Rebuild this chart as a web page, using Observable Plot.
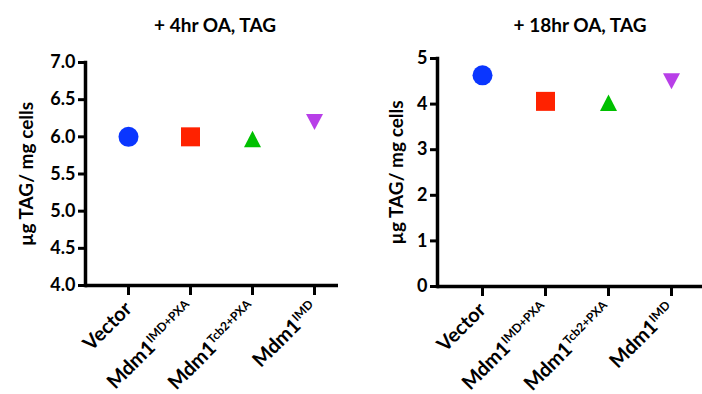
<!DOCTYPE html>
<html><head><meta charset="utf-8">
<script src="https://cdn.jsdelivr.net/npm/d3@7"></script>
<script src="https://cdn.jsdelivr.net/npm/@observablehq/plot@0.6"></script>
<style>
body{margin:0;background:#fff}
#wrap{position:relative;width:702px;height:394px;overflow:hidden}
.panel{position:absolute;top:0}
</style>
</head><body><div id="wrap"></div>
<script>
const categories = ["Vector", "Mdm1 IMD+PXA", "Mdm1 Tcb2+PXA", "Mdm1 IMD"];
const labelBase = ["Vector", "Mdm1", "Mdm1", "Mdm1"];
const labelSup = ["", "IMD+PXA", "Tcb2+PXA", "IMD"];
const tag4hr = [6.00, 6.00, 5.97, 6.20];
const tag18hr = [4.63, 4.06, 4.03, 4.50];
const titles = ["+ 4hr OA, TAG", "+ 18hr OA, TAG"];
const yLabel = "µg TAG/ mg cells";
const ticks4hr = [4.0, 4.5, 5.0, 5.5, 6.0, 6.5, 7.0];
const ticks18hr = [0, 1, 2, 3, 4, 5];
const colors = ["#0a36ff", "#ff2200", "#00c000", "#b83fe8"];

const rad = s => Math.sqrt(s / Math.PI);
const symCircle = {draw(c, s) { const r = rad(s); c.moveTo(r, 0); c.arc(0, 0, r, 0, 2 * Math.PI); c.closePath(); }};
const symSquare = {draw(c, s) { const h = rad(s) * 0.95; c.rect(-h, -h, 2 * h, 2 * h); }};
const symUp = {draw(c, s) { const r = rad(s), w = 0.85 * r, h = 0.82 * r; c.moveTo(0, -h); c.lineTo(w, h); c.lineTo(-w, h); c.closePath(); }};
const symDown = {draw(c, s) { const r = rad(s), w = 0.85 * r, h = 0.8 * r; c.moveTo(0, h); c.lineTo(w, -h); c.lineTo(-w, -h); c.closePath(); }};
const symbols = [symCircle, symSquare, symUp, symDown];

const font = "Lato, 'Open Sans', sans-serif";

function panel(cfg) {
  const data = categories.map((c, i) => ({category: c, value: cfg.values[i]}));
  const chart = Plot.plot({
    width: 351, height: 394,
    marginLeft: cfg.ml, marginRight: cfg.mr, marginTop: cfg.mt, marginBottom: cfg.mb,
    style: {fontFamily: font, fontWeight: "bold", color: "#000", background: "#fff"},
    x: {type: "point", domain: categories, range: cfg.xRange, padding: 0},
    y: {domain: cfg.domain},
    color: {domain: categories, range: colors},
    symbol: {domain: categories, range: symbols},
    marks: [
      Plot.axisY({ticks: cfg.ticks, tickFormat: cfg.fmt, tickSize: 7, tickPadding: 3, strokeWidth: 3, fontSize: 18, fontWeight: "bold", label: null}),
      Plot.axisX({tickSize: 10, tickPadding: 10, tickRotate: -45, strokeWidth: 3, fontSize: 20, fontWeight: "bold", label: null}),
      Plot.ruleY([cfg.domain[0]], {stroke: "#000", strokeWidth: 3.5}),
      Plot.frame({anchor: "left", stroke: "#000", strokeWidth: 3.5}),
      Plot.dot(data, {x: "category", y: "value", symbol: "category", fill: "category", r: 10, stroke: "none"}),
      Plot.text([cfg.title], {text: d => d, frameAnchor: "top", dy: -(cfg.mt - 18), dx: cfg.titleDx, fontSize: 19, fontWeight: "bold", fill: "#000"}),
      Plot.text([yLabel], {text: d => d, frameAnchor: "left", textAnchor: "middle", rotate: -90, dx: cfg.labelDx, fontSize: 19, fontWeight: "bold", fill: "#000"})
    ]
  });
  d3.select(chart).selectAll('g[aria-label="x-axis tick label"] text').each(function() {
    const t = d3.select(this);
    const i = categories.indexOf(this.textContent);
    if (i < 0) return;
    t.text(null);
    t.append("tspan").text(labelBase[i]);
    if (labelSup[i]) t.append("tspan").attr("dy", "-0.6em").attr("font-size", 12).text(labelSup[i]);
  });
  const div = document.createElement("div");
  div.className = "panel";
  div.style.left = cfg.left + "px";
  div.appendChild(chart);
  document.getElementById("wrap").appendChild(div);
}

panel({values: tag4hr, title: titles[0], domain: [4, 7], ticks: ticks4hr, fmt: d3.format(".1f"),
  left: 0, ml: 85, mr: 13, mt: 62, mb: 109, xRange: [127, 315], titleDx: 3, labelDx: -59});
panel({values: tag18hr, title: titles[1], domain: [0, 5], ticks: ticks18hr, fmt: d3.format("d"),
  left: 351, ml: 86, mr: 0, mt: 58, mb: 108, xRange: [130, 321], titleDx: 10, labelDx: -41});
</script>
</body></html>
